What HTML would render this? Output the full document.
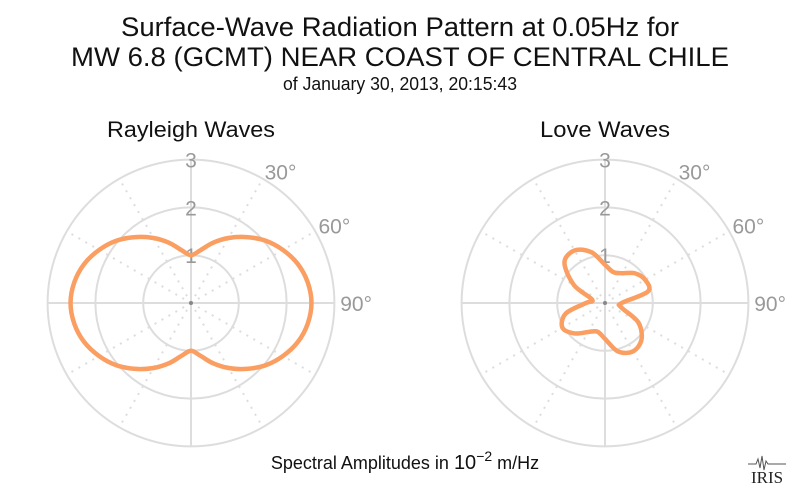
<!DOCTYPE html>
<html><head><meta charset="utf-8"><style>
body{margin:0;background:#fff;}
svg text{font-family:"Liberation Sans",sans-serif;}
</style></head><body>
<svg id="chart" width="800" height="493" viewBox="0 0 800 493" xmlns="http://www.w3.org/2000/svg">
<text x="400" y="36" text-anchor="middle" font-size="27" fill="#111" textLength="558" lengthAdjust="spacingAndGlyphs">Surface-Wave Radiation Pattern at 0.05Hz for</text>
<text x="400" y="66" text-anchor="middle" font-size="27" fill="#111" textLength="658" lengthAdjust="spacingAndGlyphs">MW 6.8 (GCMT) NEAR COAST OF CENTRAL CHILE</text>
<text x="400" y="90" text-anchor="middle" font-size="18" fill="#111" textLength="234" lengthAdjust="spacingAndGlyphs">of January 30, 2013, 20:15:43</text>
<text x="191" y="137" text-anchor="middle" font-size="22" fill="#111" textLength="168" lengthAdjust="spacingAndGlyphs">Rayleigh Waves</text>
<text x="605" y="137" text-anchor="middle" font-size="22" fill="#111" textLength="130" lengthAdjust="spacingAndGlyphs">Love Waves</text>
<text x="405" y="469" text-anchor="middle" font-size="18" fill="#111">Spectral Amplitudes in <tspan font-size="20">10</tspan><tspan dy="-8" font-size="14">−2</tspan><tspan dy="8"> m/Hz</tspan></text>
<g>
<path d="M748 464 L756 464 L758 459 L760 468 L762 456 L764 470 L766 461 L768 464 L786 464" stroke="#555" stroke-width="1" fill="none"/>
<text x="767" y="483" text-anchor="middle" font-size="17" fill="#222" style="font-family:'Liberation Serif',serif">IRIS</text>
</g>
<g id="plots"></g>
</svg>
<script>
const rayleighAngles=[0,10,20,30,40,50,60,70,80,90,100,110,120,130,140,150,160,170,180,190,200,210,220,230,240,250,260,270,280,290,300,310,320,330,340,350];
const rayleighValues=[1.0,1.12,1.34,1.57,1.8,2.03,2.22,2.38,2.48,2.52,2.48,2.38,2.22,2.03,1.8,1.57,1.34,1.12,1.0,1.12,1.34,1.57,1.8,2.03,2.22,2.38,2.48,2.52,2.48,2.38,2.22,2.03,1.8,1.57,1.34,1.12];
const loveAngles=[0,15,30,45,60,75,90,105,120,135,150,165,180,195,210,225,240,255,270,285,300,315,330,345];
const loveValues=[0.8,0.67,0.72,0.88,0.97,0.93,0.35,0.35,0.8,1.08,1.17,1.05,0.75,0.62,0.7,0.9,1.03,0.85,0.4,0.28,0.75,1.2,1.27,1.1];
const rTicks=[1,2,3];
const angleTickLabels=["30°","60°","90°"];
const angleTickValues=[30,60,90];
const NS="http://www.w3.org/2000/svg";
const g=document.getElementById('plots');
const SCALE=47.8;
function mk(t,a,parent){const e=document.createElementNS(NS,t);for(const k in a)e.setAttribute(k,a[k]);(parent||g).appendChild(e);return e;}
function pt(cx,cy,r,deg){const a=deg*Math.PI/180;return [cx+r*SCALE*Math.sin(a),cy-r*SCALE*Math.cos(a)];}
function drawPlot(cx,cy,angles,values,name){
  const grp=mk('g',{});
  
  
  for(let d=0;d<360;d+=30){
    const [x,y]=pt(cx,cy,3,d);
    const l=mk('line',{x1:cx,y1:cy,x2:x,y2:y,stroke:'#ddd','stroke-width':2,'stroke-dasharray':d%90===0?'':'2,6'},grp);
    
    
  }
  rTicks.forEach(r=>{
    const c=mk('circle',{cx:cx,cy:cy,r:r*SCALE,fill:'none',stroke:'#ddd','stroke-width':2},grp);
    
    
  });
  mk('circle',{cx:cx,cy:cy,r:2,fill:'#888'},grp);
  rTicks.forEach(r=>{
    const t=mk('text',{x:cx,y:cy-r*SCALE+8,'text-anchor':'middle','font-size':21,fill:'#999'},grp);
    t.textContent=r;
    
    
  });
  angleTickValues.forEach((d,i)=>{
    const [x,y]=pt(cx,cy,3.08,d);
    const t=mk('text',{x:x+(d===90?2:0),y:y+(d===90?8:4),'text-anchor':'start','font-size':21,fill:'#999'},grp);
    t.textContent=angleTickLabels[i];
    
    
  });
  const P=angles.map((a,i)=>pt(cx,cy,values[i],a));
  const n=P.length;let d='M'+P[0][0].toFixed(2)+','+P[0][1].toFixed(2);
  for(let i=0;i<n;i++){
    const p0=P[(i-1+n)%n],p1=P[i],p2=P[(i+1)%n],p3=P[(i+2)%n];
    const c1=[p1[0]+(p2[0]-p0[0])/6,p1[1]+(p2[1]-p0[1])/6];
    const c2=[p2[0]-(p3[0]-p1[0])/6,p2[1]-(p3[1]-p1[1])/6];
    d+=' C'+c1.map(v=>v.toFixed(2)).join(',')+' '+c2.map(v=>v.toFixed(2)).join(',')+' '+p2.map(v=>v.toFixed(2)).join(',');
  }
  const path=mk('path',{d:d+'Z',fill:'none',stroke:'#fa9e62','stroke-width':4.5,'stroke-linejoin':'round'},grp);
  
  
}
drawPlot(191,303,rayleighAngles,rayleighValues,'rayleigh');
drawPlot(605,303,loveAngles,loveValues,'love');
</script>
</body></html>
